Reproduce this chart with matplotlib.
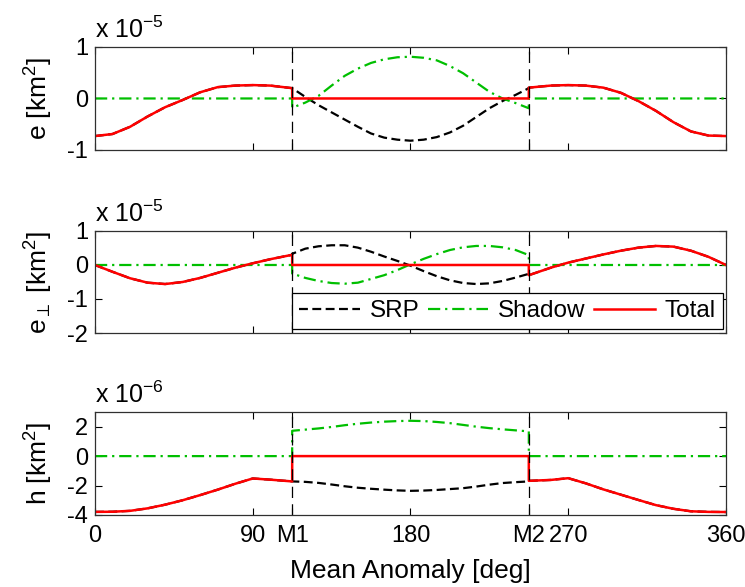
import numpy as np
import matplotlib.pyplot as plt

plt.rcParams['font.family'] = ['Liberation Sans', 'DejaVu Sans']
plt.rcParams['mathtext.fontset'] = 'custom'
plt.rcParams['mathtext.rm'] = 'Liberation Sans'
plt.rcParams['mathtext.it'] = 'Liberation Sans:italic'
plt.rcParams['mathtext.sf'] = 'Liberation Sans'

# shadow entry / exit mean anomaly [deg]
M1 = 112.5
M2 = 247.5

x_out1 = [0, 10, 20, 30, 40, 50, 60, 70, 80, 90, 100, M1]
x_mid = [M1, 120, 127.5, 135, 142.5, 150, 157.5, 165, 172.5, 180,
         187.5, 195, 202.5, 210, 217.5, 225, 232.5, 240, M2]
x_out2 = [M2, 260, 270, 280, 290, 300, 310, 320, 330, 340, 350, 360]

# e  [x 1e-5 km^2]
e_out1 = [-0.73, -0.69, -0.55, -0.35, -0.17, -0.03, 0.12, 0.22, 0.25, 0.26, 0.25, 0.20]
e_out2 = [0.21, 0.25, 0.26, 0.25, 0.21, 0.11, -0.05, -0.24, -0.46, -0.64, -0.72, -0.73]
e_srp_mid = [0.20, 0.03, -0.13, -0.27, -0.41, -0.55, -0.68, -0.76, -0.80, -0.82,
             -0.80, -0.75, -0.66, -0.53, -0.36, -0.19, -0.05, 0.07, 0.20]
e_shd_mid = [-0.18, -0.08, 0.05, 0.25, 0.44, 0.58, 0.69, 0.76, 0.80, 0.81,
             0.79, 0.74, 0.63, 0.49, 0.31, 0.13, 0.0, -0.09, -0.19]

# e_perp  [x 1e-5 km^2]
ep_out1 = [0.0, -0.20, -0.39, -0.52, -0.56, -0.50, -0.38, -0.23, -0.08, 0.05, 0.17, 0.30]
ep_out2 = [-0.30, -0.08, 0.07, 0.19, 0.31, 0.42, 0.51, 0.56, 0.54, 0.42, 0.24, 0.0]
ep_srp_mid = [0.33, 0.48, 0.55, 0.58, 0.58, 0.51, 0.39, 0.25, 0.12, -0.02,
              -0.18, -0.33, -0.45, -0.53, -0.56, -0.54, -0.47, -0.37, -0.26]
ep_shd_mid = [-0.25, -0.38, -0.47, -0.53, -0.55, -0.52, -0.41, -0.30, -0.15, 0.02,
              0.18, 0.32, 0.44, 0.52, 0.56, 0.56, 0.52, 0.44, 0.29]

# h  [x 1e-6 km^2]
h_out1 = [-3.79, -3.78, -3.72, -3.55, -3.30, -3.00, -2.65, -2.28, -1.88, -1.52, -1.60, -1.72]
h_out2 = [-1.68, -1.62, -1.50, -1.85, -2.26, -2.62, -2.98, -3.33, -3.58, -3.75, -3.79, -3.80]
h_srp_mid = [-1.72, -1.75, -1.82, -1.93, -2.05, -2.15, -2.22, -2.28, -2.33, -2.36,
             -2.34, -2.30, -2.24, -2.18, -2.07, -1.94, -1.83, -1.77, -1.72]
h_shd_mid = [1.72, 1.80, 1.88, 1.98, 2.10, 2.20, 2.28, 2.34, 2.38, 2.40,
             2.38, 2.32, 2.24, 2.12, 2.00, 1.90, 1.82, 1.75, 1.68]

xticks = [0, 90, M1, 180, M2, 270, 360]
xticklabels = ['0', '90', 'M1', '180', 'M2', '270', '360']

panels = [
    (e_out1, e_out2, e_srp_mid, e_shd_mid, r'e [km$^2$]', (-1, 1), [-1, 0, 1], -5),
    (ep_out1, ep_out2, ep_srp_mid, ep_shd_mid, r'e$_\perp$ [km$^2$]', (-2, 1), [-2, -1, 0, 1], -5),
    (h_out1, h_out2, h_srp_mid, h_shd_mid, r'h [km$^2$]', (-4, 3), [-4, -2, 0, 2], -6),
]
axes_pos = [
    [0.1275, 0.7445, 0.847, 0.1755],
    [0.1275, 0.4327, 0.847, 0.1738],
    [0.1275, 0.1227, 0.847, 0.1755],
]

GREEN = '#00bf00'
fs_tick = 17
fs_lab = 19
fs_leg = 17.5

fig = plt.figure(figsize=(7.45, 5.87), dpi=100)
x_all = np.array(x_out1 + x_mid + x_out2)

for i, (out1, out2, srp_mid, shd_mid, ylab, ylim, yt, expo) in enumerate(panels):
    ax = fig.add_axes(axes_pos[i])
    n1, nm, n2 = len(out1), len(srp_mid), len(out2)
    srp = np.array(out1 + srp_mid + out2)
    shadow = np.array([0.0] * n1 + shd_mid + [0.0] * n2)
    total = np.array(out1 + [0.0] * nm + out2)

    l1, = ax.plot(x_all, srp, color='black', lw=1.6, linestyle=(0, (4, 2)))
    l2, = ax.plot(x_all, shadow, color=GREEN, lw=1.6, linestyle=(0, (5.5, 2.2, 1, 2.2)))
    l3, = ax.plot(x_all, total, color='red', lw=1.8)

    for m in (M1, M2):
        ax.axvline(m, color='black', lw=0.9, linestyle=(0, (9, 5)))

    ax.set_xlim(0, 360)
    ax.set_ylim(*ylim)
    ax.set_yticks(yt)
    ax.set_yticklabels([str(v) for v in yt])
    ax.set_xticks(xticks)
    if i == 2:
        ax.set_xticklabels(xticklabels)
        ax.set_xlabel('Mean Anomaly [deg]', fontsize=fs_lab, labelpad=9)
    else:
        ax.set_xticklabels([])
    ax.tick_params(direction='in', top=True, right=True, length=5, width=0.8,
                   labelsize=fs_tick, pad=5)
    ax.tick_params(axis='x', pad=7)
    for s in ax.spines.values():
        s.set_color('#303030')
        s.set_linewidth(0.9)
    ax.set_ylabel(ylab, fontsize=fs_lab)
    ax.yaxis.set_label_coords(-0.063, 0.5)
    ax.text(0.0, 1.04, r'x 10$^{%d}$' % expo, transform=ax.transAxes,
            fontsize=fs_tick + 1, ha='left', va='bottom')

    if i == 1:
        leg = ax.legend([l1, l2, l3], ['SRP', 'Shadow', 'Total'], ncol=3,
                        loc='lower left', bbox_to_anchor=(0.312, 0.036, 0.683, 0.408),
                        mode='expand', fontsize=fs_leg, frameon=True, fancybox=False,
                        edgecolor='black', framealpha=1, handlelength=2.5,
                        handletextpad=0.4, borderaxespad=0, borderpad=0.3)
        leg.get_frame().set_linewidth(0.9)

fig.savefig('out.png', dpi=100)
